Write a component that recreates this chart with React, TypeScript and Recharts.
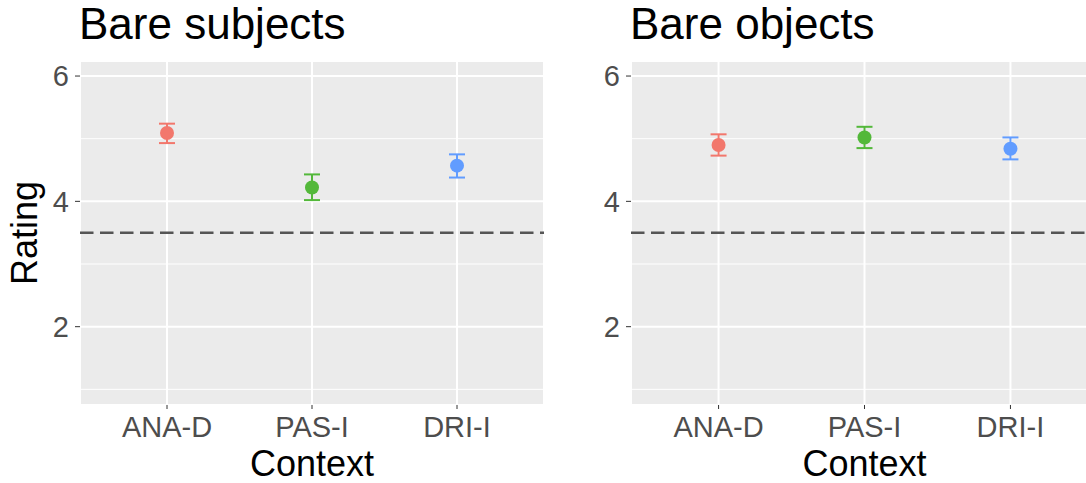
import React from "react";
import {
  ScatterChart,
  Scatter,
  XAxis,
  YAxis,
  CartesianGrid,
  ReferenceLine,
  ErrorBar,
} from "recharts";

const CONTEXTS = ["ANA-D", "PAS-I", "DRI-I"];
const COLORS = ["#F2776C", "#53B83A", "#619CFF"];

// Bare subjects: mean rating with lower / upper error bar ends
const SUBJ_MEAN = [5.09, 4.22, 4.57];
const SUBJ_LOW = [4.93, 4.02, 4.38];
const SUBJ_HIGH = [5.24, 4.43, 4.75];

// Bare objects
const OBJ_MEAN = [4.9, 5.02, 4.84];
const OBJ_LOW = [4.73, 4.85, 4.67];
const OBJ_HIGH = [5.07, 5.19, 5.02];

const Y_TICKS = [2, 4, 6];
const Y_MINOR = [1, 3, 5];
const X_TICKS = [1, 2, 3];
const CHANCE = 3.5;

const FONT = '"Liberation Sans", Arial, Helvetica, sans-serif';

function pointsFor(mean: number[], low: number[], high: number[]) {
  return CONTEXTS.map((c, i) => ({
    x: i + 1,
    context: c,
    rating: mean[i],
    err: [mean[i] - low[i], high[i] - mean[i]],
  }));
}

interface PanelProps {
  title: string;
  mean: number[];
  low: number[];
  high: number[];
  left: number;
  width: number;
  marginRight: number;
  showYLabel: boolean;
}

function Panel({ title, mean, low, high, left, width, marginRight, showYLabel }: PanelProps) {
  const points = pointsFor(mean, low, high);
  const tickStyle = { fontSize: 29, fill: "#4D4D4D", fontFamily: FONT };

  return (
    <div style={{ position: "absolute", left, top: 0, width, height: 483 }}>
      <div
        style={{
          position: "absolute",
          left: 79,
          top: 2,
          fontSize: 44,
          lineHeight: "44px",
          fontFamily: FONT,
          color: "#000",
          whiteSpace: "nowrap",
        }}
      >
        {title}
      </div>
      <ScatterChart
        width={width}
        height={483}
        margin={{ top: 61, right: marginRight, bottom: 0, left: 0 }}
      >
        <CartesianGrid fill="#EBEBEB" stroke="#FFFFFF" strokeWidth={2} />
        {Y_MINOR.map((v) => (
          <ReferenceLine key={v} y={v} stroke="#FFFFFF" strokeWidth={1} />
        ))}
        <XAxis
          type="number"
          dataKey="x"
          domain={[0.4, 3.6]}
          ticks={X_TICKS}
          interval={0}
          allowDataOverflow
          height={78}
          axisLine={false}
          tickLine={{ stroke: "#333333" }}
          tickSize={4}
          tickMargin={7}
          tick={tickStyle}
          tickFormatter={(v: number) => CONTEXTS[v - 1]}
          label={{
            value: "Context",
            position: "insideBottom",
            offset: 7,
            fontSize: 36,
            fill: "#000000",
            fontFamily: FONT,
          }}
        />
        <YAxis
          type="number"
          dataKey="rating"
          domain={[0.75, 6.24]}
          ticks={Y_TICKS}
          interval={0}
          allowDataOverflow
          width={80}
          axisLine={false}
          tickLine={{ stroke: "#333333" }}
          tickSize={5}
          tickMargin={6}
          tick={tickStyle}
          label={
            showYLabel
              ? {
                  value: "Rating",
                  angle: -90,
                  position: "insideLeft",
                  offset: 24,
                  fontSize: 36,
                  fill: "#000000",
                  fontFamily: FONT,
                  style: { textAnchor: "middle" },
                }
              : undefined
          }
        />
        <ReferenceLine
          y={CHANCE}
          stroke="#555555"
          strokeWidth={2.5}
          strokeDasharray="13.5 6.5"
        />
        {points.map((p, i) => (
          <Scatter
            key={p.context}
            data={[p]}
            fill={COLORS[i]}
            isAnimationActive={false}
            shape={(props: any) => (
              <circle cx={props.cx} cy={props.cy} r={7} fill={COLORS[i]} />
            )}
          >
            <ErrorBar
              dataKey="err"
              direction="y"
              width={8}
              strokeWidth={2}
              stroke={COLORS[i]}
              isAnimationActive={false}
            />
          </Scatter>
        ))}
      </ScatterChart>
    </div>
  );
}

export default function App() {
  return (
    <div
      style={{
        position: "fixed",
        left: 0,
        top: 0,
        width: 1086,
        height: 483,
        overflow: "hidden",
        background: "#FFFFFF",
      }}
    >
      <Panel
        title="Bare subjects"
        mean={SUBJ_MEAN}
        low={SUBJ_LOW}
        high={SUBJ_HIGH}
        left={0}
        width={551}
        marginRight={7}
        showYLabel
      />
      <Panel
        title="Bare objects"
        mean={OBJ_MEAN}
        low={OBJ_LOW}
        high={OBJ_HIGH}
        left={551}
        width={547}
        marginRight={0}
        showYLabel={false}
      />
    </div>
  );
}
